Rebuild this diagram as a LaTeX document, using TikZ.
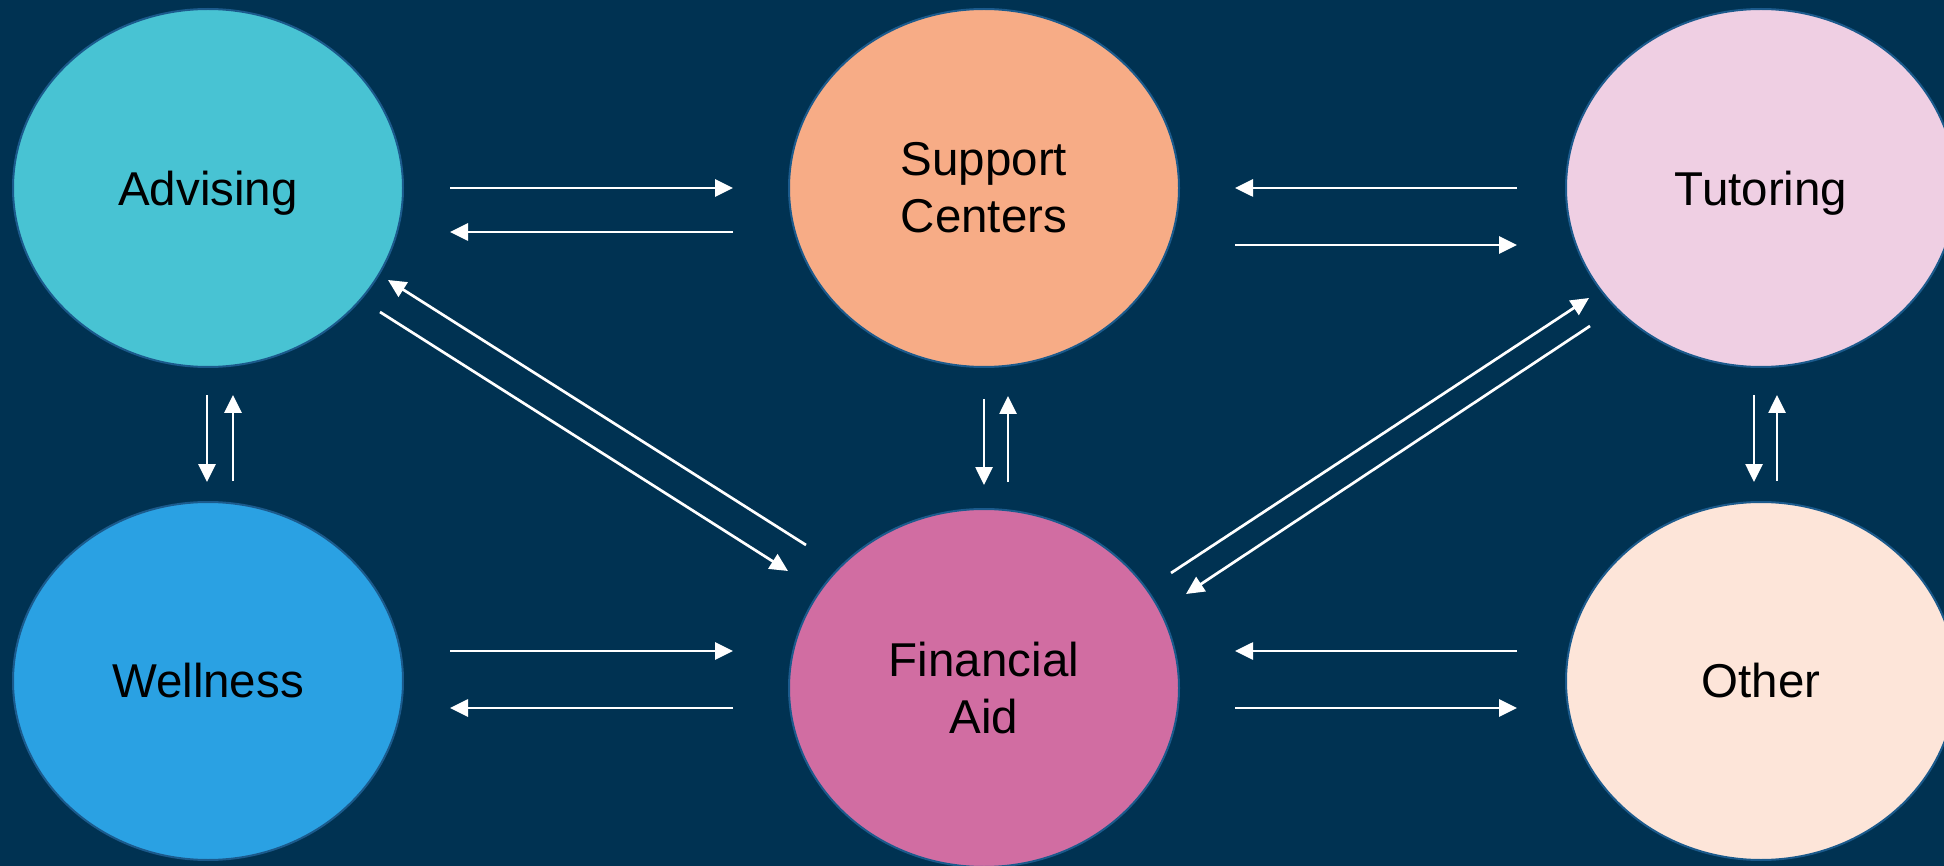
\documentclass[tikz,border=0pt]{standalone}
\usepackage{fontspec}
\setmainfont{Liberation Sans}
\usetikzlibrary{shapes.geometric,arrows.meta}
\definecolor{bg}{HTML}{003252}
\definecolor{rim}{HTML}{1B5A8C}
\definecolor{cAdv}{HTML}{48C3D3}
\definecolor{cSup}{HTML}{F7AC86}
\definecolor{cTut}{HTML}{EFCFE3}
\definecolor{cWel}{HTML}{2AA1E3}
\definecolor{cFin}{HTML}{D16DA2}
\definecolor{cOth}{HTML}{FDE5D9}
\tikzset{
  bubble/.style={ellipse, draw=rim, line width=2pt, minimum width=390pt, minimum height=358pt,
    inner sep=0pt, align=center, text=black,
    font=\fontsize{47.5pt}{57pt}\selectfont},
  nodepth/.style={text depth=0pt},
  link/.style={draw=white, line width=2.7pt, -{Triangle[length=18pt,width=17pt]}}
}
\begin{document}
\begin{tikzpicture}[x=1pt,y=-1pt]
\fill[bg] (0,0) rectangle (1944,866);
\useasboundingbox (0,0) rectangle (1944,866);
\begin{scope}
\clip (0,0) rectangle (1944,866);
\node[bubble, nodepth, fill=cAdv] (adv) at (208,188) {Advising};
\node[bubble, fill=cSup] (sup) at (984,188) {Support\\Centers};
\node[bubble, nodepth, fill=cTut] (tut) at (1761,188) {Tutoring};
\node[bubble, fill=cWel] (wel) at (208,681) {Wellness};
\node[bubble, fill=cFin] (fin) at (984,688) {Financial\\Aid};
\node[bubble, fill=cOth] (oth) at (1761,681) {Other};
\end{scope}
% endpoints
\coordinate (as1) at (450,188);  \coordinate (as2) at (733,188);
\coordinate (sa1) at (733,232);  \coordinate (sa2) at (450,232);
\coordinate (ts1) at (1517,188); \coordinate (ts2) at (1235,188);
\coordinate (st1) at (1235,245); \coordinate (st2) at (1517,245);
\coordinate (wf1) at (450,651);  \coordinate (wf2) at (733,651);
\coordinate (fw1) at (733,708);  \coordinate (fw2) at (450,708);
\coordinate (of1) at (1517,651); \coordinate (of2) at (1235,651);
\coordinate (fo1) at (1235,708); \coordinate (fo2) at (1517,708);
\coordinate (aw1) at (207,395);  \coordinate (aw2) at (207,482);
\coordinate (wa1) at (233,481);  \coordinate (wa2) at (233,395);
\coordinate (sf1) at (984,399);  \coordinate (sf2) at (984,485);
\coordinate (fs1) at (1008,482); \coordinate (fs2) at (1008,396);
\coordinate (to1) at (1754,395); \coordinate (to2) at (1754,482);
\coordinate (ot1) at (1777,481); \coordinate (ot2) at (1777,395);
\coordinate (fa1) at (806,545);  \coordinate (fa2) at (388,280);
\coordinate (af1) at (380,312);  \coordinate (af2) at (788,571);
\coordinate (ft1) at (1171,573); \coordinate (ft2) at (1589,298);
\coordinate (tf1) at (1590,326); \coordinate (tf2) at (1186,594);
\foreach \p in {as,sa,ts,st,wf,fw,of,fo,aw,wa,sf,fs,to,ot,fa,af,ft,tf}{
  \draw[link] (\p1) -- (\p2);
}
\end{tikzpicture}
\end{document}
